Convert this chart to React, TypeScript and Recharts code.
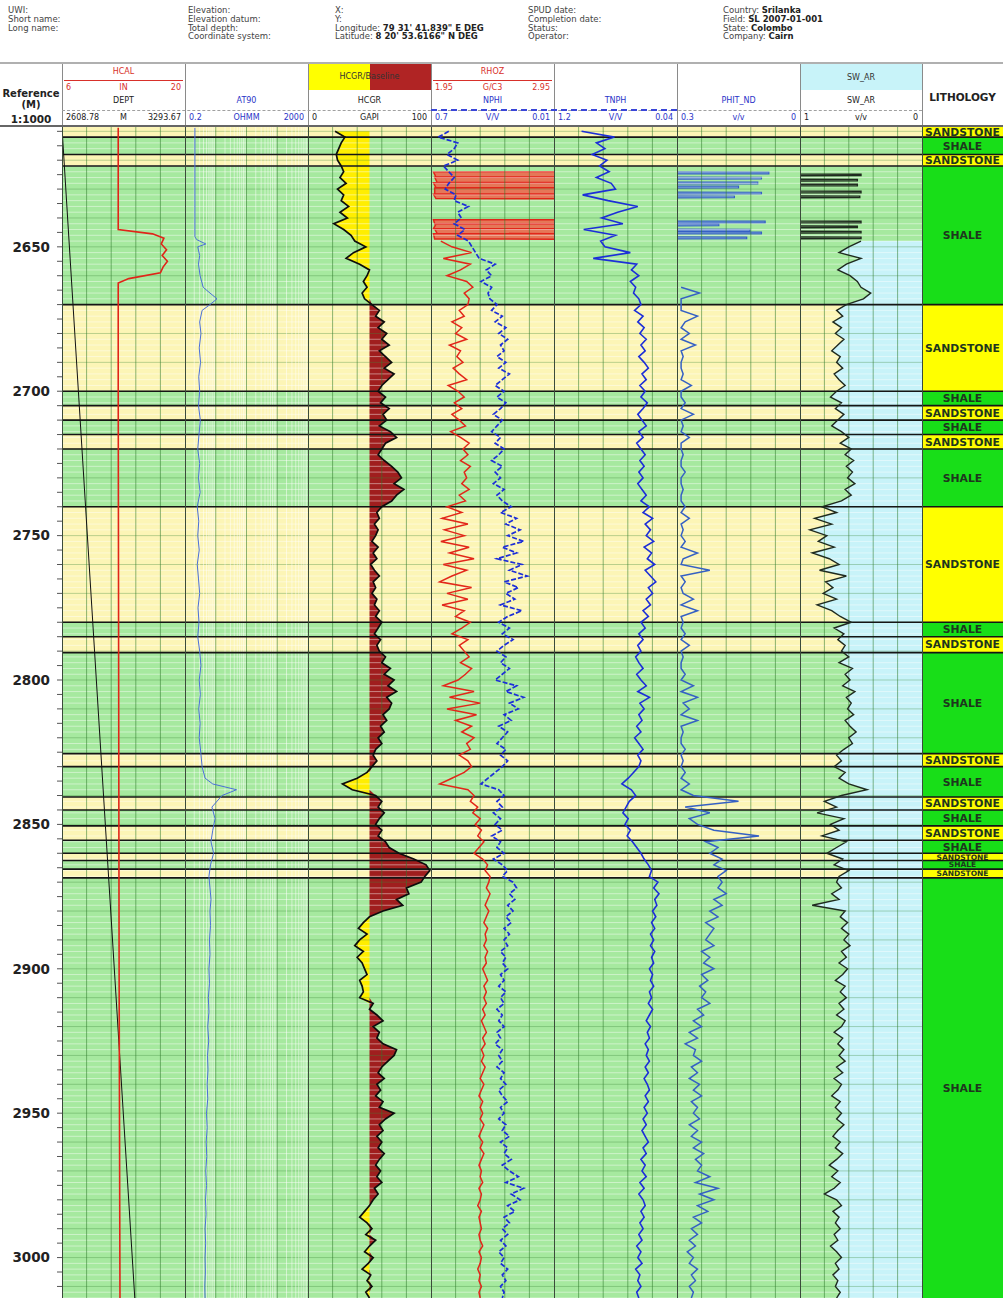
import React from "react";
import { ComposedChart, Line, Area, XAxis, YAxis, ReferenceArea, ReferenceLine } from "recharts";

const FONT = "'DejaVu Sans', Verdana, sans-serif";
const RED = "#d8302a";
const BLUE = "#2a34c8";

// depth window shown (m) and plot geometry
const TOP_DEPTH = 2608.5;
const BASE_DEPTH = 3014;
const PLOT_TOP = 127;
const PLOT_H = 1171;

// lithology beds
const BED_TOPS = [2608.5, 2612, 2618, 2622, 2670, 2700, 2705, 2710, 2715, 2720, 2740, 2780, 2785, 2790.5, 2825.5, 2830, 2840.5, 2845, 2850.5, 2855.5, 2860, 2862.5, 2865.5, 2868.5];
const BED_BASES = [2612, 2618, 2622, 2670, 2700, 2705, 2710, 2715, 2720, 2740, 2780, 2785, 2790.5, 2825.5, 2830, 2840.5, 2845, 2850.5, 2855.5, 2860, 2862.5, 2865.5, 2868.5, 3014];
const BED_TYPES = ["SANDSTONE", "SHALE", "SANDSTONE", "SHALE", "SANDSTONE", "SHALE", "SANDSTONE", "SHALE", "SANDSTONE", "SHALE", "SANDSTONE", "SHALE", "SANDSTONE", "SHALE", "SANDSTONE", "SHALE", "SANDSTONE", "SHALE", "SANDSTONE", "SHALE", "SANDSTONE", "SHALE", "SANDSTONE", "SHALE"];

const DEPTH_LABELS = [2650, 2700, 2750, 2800, 2850, 2900, 2950, 3000];

// log samples, one every 2 m starting at 2610 m
const SAMPLE_START = 2610;
const SAMPLE_STEP = 2;

const HCGR = [
  22, 30, 27, 25, 23, 24, 27, 29, 26, 31,
  24, 29, 27, 33, 26, 32, 21, 29, 35, 38,
  47, 37, 31, 42, 50, 48, 45, 48, 44, 46,
  52, 58, 55, 62, 57, 64, 60, 66, 58, 63,
  68, 62, 70, 65, 60, 57, 63, 59, 66, 61,
  64, 58, 67, 72, 63, 60, 57, 62, 68, 73,
  76, 70, 78, 72, 68, 60, 56, 58, 54, 57,
  55, 52, 57, 53, 56, 51, 54, 58, 53, 55,
  52, 56, 54, 58, 55, 60, 57, 54, 59, 56,
  58, 63, 60, 67, 62, 70, 65, 72, 64, 68,
  66, 61, 64, 59, 62, 57, 60, 55, 53, 56,
  52, 48, 40, 28, 36, 55, 60, 57, 62, 58,
  55, 60, 57, 63, 66, 74, 86, 96, 99, 95,
  92, 80, 82, 72, 77, 61, 50, 45, 41, 48,
  42, 38, 45, 40, 44, 46, 48, 42, 44, 45,
  42, 53, 50, 56, 61, 53, 58, 56, 61, 72,
  70, 65, 60, 57, 62, 56, 59, 55, 61, 58,
  70, 63, 58, 61, 56, 60, 57, 62, 58, 55,
  59, 56, 60, 54, 57, 53, 50, 46, 42, 48,
  52, 47, 55, 50, 46, 53, 49, 44, 51, 48,
  52, 47, 50,
];

const RHOZ = [
  null, null, null, null, null, null, null, null, null, null,
  null, null, null, null, null, null, null, null, null, 2.03,
  2.12, 2.28, 2.05, 2.27, 2.19, 2.08, 2.24, 2.29, 2.22, 2.26,
  2.25, 2.18, 2.22, 2.12, 2.2, 2.15, 2.24, 2.1, 2.19, 2.16,
  2.21, 2.13, 2.18, 2.24, 2.09, 2.17, 2.22, 2.14, 2.2, 2.12,
  2.18, 2.23, 2.11, 2.19, 2.26, 2.21, 2.25, 2.19, 2.27, 2.22,
  2.24, 2.2, 2.26, 2.18, 2.23, 2.08, 2.2, 2.04, 2.25, 2.06,
  2.22, 2.03, 2.26, 2.1, 2.3, 2.05, 2.24, 2.12, 2.02, 2.28,
  2.08, 2.25, 2.04, 2.22, 2.15, 2.27, 2.2, 2.12, 2.25, 2.18,
  2.22, 2.26, 2.19, 2.28, 2.23, 2.17, 2.05, 2.3, 2.1, 2.35,
  2.08, 2.32, 2.15, 2.28, 2.2, 2.3, 2.24, 2.27, 2.18, 2.25,
  2.28, 2.22, 2.12, 2.02, 2.25, 2.3, 2.27, 2.33, 2.29, 2.35,
  2.31, 2.36, 2.33, 2.38, 2.34, 2.3, 2.37, 2.41, 2.39, 2.43,
  2.42, 2.4, 2.43, 2.41, 2.39, 2.42, 2.4, 2.38, 2.41, 2.39,
  2.4, 2.38, 2.41, 2.39, 2.4, 2.37, 2.39, 2.41, 2.38, 2.4,
  2.38, 2.4, 2.37, 2.39, 2.36, 2.38, 2.4, 2.37, 2.39, 2.36,
  2.38, 2.36, 2.39, 2.37, 2.35, 2.38, 2.36, 2.34, 2.37, 2.35,
  2.37, 2.35, 2.38, 2.36, 2.34, 2.37, 2.35, 2.38, 2.36, 2.34,
  2.36, 2.35, 2.37, 2.34, 2.36, 2.35, 2.33, 2.36, 2.34, 2.35,
  2.36, 2.34, 2.35, 2.37, 2.34, 2.36, 2.35, 2.33, 2.35, 2.34,
  2.36, 2.34, 2.35,
];

const NPHI = [
  0.6, 0.66, 0.55, 0.57, 0.61, 0.55, 0.63, 0.6, 0.57, 0.6,
  0.62, 0.56, 0.57, 0.49, 0.55, 0.53, 0.57, 0.51, 0.55, 0.49,
  0.47, 0.45, 0.43, 0.34, 0.39, 0.36, 0.42, 0.36, 0.38, 0.37,
  0.33, 0.36, 0.3, 0.34, 0.28, 0.32, 0.27, 0.31, 0.29, 0.33,
  0.28, 0.32, 0.26, 0.3, 0.34, 0.29, 0.33, 0.28, 0.31, 0.35,
  0.3, 0.33, 0.36, 0.31, 0.34, 0.29, 0.32, 0.36, 0.3, 0.34,
  0.31, 0.35, 0.29, 0.33, 0.3, 0.25, 0.31, 0.22, 0.28, 0.2,
  0.27, 0.18, 0.3, 0.22, 0.33, 0.19, 0.26, 0.16, 0.29, 0.21,
  0.28, 0.23, 0.31, 0.19, 0.27, 0.32, 0.26, 0.3, 0.24, 0.29,
  0.33, 0.28, 0.31, 0.26, 0.3, 0.34, 0.22, 0.28, 0.18, 0.26,
  0.21, 0.29, 0.25, 0.32, 0.27, 0.3, 0.33, 0.28, 0.31, 0.27,
  0.3, 0.34, 0.38, 0.42, 0.32, 0.29, 0.33, 0.3, 0.35, 0.31,
  0.34, 0.3, 0.36, 0.31, 0.33, 0.29, 0.35, 0.3, 0.27, 0.3,
  0.24, 0.22, 0.26, 0.23, 0.27, 0.24, 0.28, 0.25, 0.29, 0.26,
  0.29, 0.27, 0.31, 0.28, 0.3, 0.27, 0.31, 0.29, 0.32, 0.28,
  0.31, 0.29, 0.33, 0.3, 0.32, 0.29, 0.33, 0.31, 0.34, 0.3,
  0.32, 0.3, 0.33, 0.29, 0.31, 0.28, 0.32, 0.3, 0.27, 0.31,
  0.29, 0.32, 0.28, 0.3, 0.26, 0.31, 0.27, 0.29, 0.25, 0.3,
  0.26, 0.21, 0.28, 0.18, 0.25, 0.2, 0.27, 0.23, 0.29, 0.26,
  0.3, 0.27, 0.31, 0.28, 0.32, 0.29, 0.31, 0.27, 0.3, 0.28,
  0.31, 0.29, 0.3,
];

const TNPH = [
  0.94, 0.63, 0.8, 0.72, 0.84, 0.7, 0.77, 0.68, 0.8, 0.66,
  0.62, 0.93, 0.69, 0.41, 0.6, 0.75, 0.55, 0.92, 0.62, 0.76,
  0.72, 0.48, 0.83, 0.42, 0.47, 0.4, 0.48, 0.43, 0.45, 0.4,
  0.38, 0.44, 0.36, 0.41, 0.35, 0.39, 0.33, 0.38, 0.34, 0.4,
  0.35, 0.31, 0.37, 0.33, 0.39, 0.34, 0.38, 0.32, 0.36, 0.41,
  0.37, 0.33, 0.4, 0.36, 0.42, 0.38, 0.34, 0.39, 0.35, 0.4,
  0.36, 0.41, 0.37, 0.33, 0.38, 0.3, 0.36, 0.27, 0.34, 0.29,
  0.33, 0.26, 0.35, 0.28, 0.32, 0.25, 0.34, 0.29, 0.24, 0.31,
  0.27, 0.33, 0.29, 0.36, 0.31, 0.38, 0.34, 0.4, 0.36, 0.41,
  0.38, 0.43, 0.4, 0.36, 0.42, 0.38, 0.33, 0.41, 0.3, 0.39,
  0.35, 0.4, 0.37, 0.42, 0.38, 0.44, 0.4, 0.36, 0.41, 0.38,
  0.4, 0.45, 0.5, 0.56, 0.47, 0.43, 0.49, 0.52, 0.55, 0.5,
  0.53, 0.48, 0.51, 0.46, 0.42, 0.38, 0.35, 0.31, 0.28, 0.3,
  0.22, 0.26, 0.21, 0.25, 0.23, 0.27, 0.24, 0.28, 0.25, 0.29,
  0.26, 0.29, 0.25, 0.28, 0.26, 0.3, 0.27, 0.29, 0.26, 0.3,
  0.28, 0.31, 0.27, 0.3, 0.33, 0.29, 0.32, 0.3, 0.34, 0.31,
  0.33, 0.3, 0.34, 0.31, 0.35, 0.32, 0.3, 0.34, 0.31, 0.35,
  0.32, 0.36, 0.33, 0.37, 0.34, 0.31, 0.36, 0.33, 0.38, 0.34,
  0.37, 0.33, 0.39, 0.35, 0.4, 0.36, 0.34, 0.38, 0.35, 0.39,
  0.36, 0.4, 0.37, 0.42, 0.38, 0.41, 0.37, 0.43, 0.39, 0.41,
  0.38, 0.42, 0.4,
];

const PHIT_ND = [
  null, null, null, null, null, null, null, null, null, null,
  null, null, null, null, null, null, null, null, null, null,
  null, null, null, null, null, null, null, 0.29, 0.245, 0.29,
  0.29, 0.29, 0.25, 0.28, 0.29, 0.27, 0.29, 0.255, 0.29, 0.285,
  0.29, 0.29, 0.285, 0.29, 0.265, 0.29, 0.29, 0.28, 0.29, 0.26,
  0.29, 0.285, 0.29, 0.27, 0.29, 0.29, 0.285, 0.29, 0.29, 0.28,
  0.29, 0.29, 0.285, 0.29, 0.29, 0.28, 0.29, 0.27, 0.29, 0.285,
  0.29, 0.28, 0.29, 0.25, 0.285, 0.29, 0.22, 0.29, 0.28, 0.29,
  0.285, 0.26, 0.29, 0.25, 0.29, 0.285, 0.29, 0.28, 0.29, 0.27,
  0.29, 0.285, 0.29, 0.29, 0.28, 0.29, 0.26, 0.29, 0.25, 0.285,
  0.27, 0.29, 0.25, 0.29, 0.285, 0.29, 0.29, 0.28, 0.29, 0.285,
  0.29, 0.28, 0.29, 0.27, 0.29, 0.26, 0.15, 0.28, 0.22, 0.27,
  0.25, 0.21, 0.1, 0.23, 0.2, 0.22, 0.19, 0.21, 0.18, 0.2,
  0.19, 0.2, 0.18, 0.21, 0.19, 0.22, 0.2, 0.23, 0.21, 0.22,
  0.23, 0.21, 0.24, 0.22, 0.235, 0.21, 0.24, 0.225, 0.245, 0.23,
  0.24, 0.22, 0.25, 0.235, 0.26, 0.24, 0.27, 0.25, 0.28, 0.255,
  0.26, 0.24, 0.265, 0.25, 0.27, 0.245, 0.26, 0.24, 0.265, 0.25,
  0.26, 0.245, 0.27, 0.25, 0.265, 0.24, 0.26, 0.235, 0.255, 0.24,
  0.25, 0.22, 0.255, 0.2, 0.245, 0.21, 0.25, 0.225, 0.26, 0.24,
  0.265, 0.25, 0.27, 0.255, 0.275, 0.26, 0.27, 0.25, 0.265, 0.255,
  0.27, 0.26, 0.265,
];

const SW_AR = [
  null, null, null, null, null, null, null, null, null, null,
  null, null, null, null, null, null, null, null, null, 0.5,
  0.6, 0.68, 0.5, 0.62, 0.69, 0.59, 0.53, 0.5, 0.42, 0.48,
  0.62, 0.7, 0.65, 0.73, 0.66, 0.71, 0.64, 0.69, 0.74, 0.67,
  0.7, 0.65, 0.72, 0.68, 0.63, 0.7, 0.75, 0.66, 0.71, 0.64,
  0.69, 0.74, 0.66, 0.6, 0.67, 0.58, 0.63, 0.56, 0.62, 0.57,
  0.61, 0.55, 0.63, 0.58, 0.66, 0.82, 0.7, 0.88, 0.74, 0.92,
  0.78, 0.85, 0.72, 0.9, 0.76, 0.68, 0.84, 0.62, 0.79, 0.73,
  0.81, 0.7, 0.86, 0.74, 0.67, 0.58, 0.72, 0.64, 0.69, 0.63,
  0.66, 0.6, 0.68, 0.57, 0.63, 0.59, 0.65, 0.55, 0.62, 0.58,
  0.61, 0.56, 0.63, 0.59, 0.54, 0.6, 0.57, 0.64, 0.7, 0.66,
  0.72, 0.63, 0.68, 0.6, 0.45, 0.66, 0.8, 0.7, 0.86, 0.64,
  0.75, 0.68, 0.82, 0.62, 0.7, 0.78, 0.65, 0.72, 0.6, 0.68,
  0.7, 0.66, 0.74, 0.68, 0.9, 0.63, 0.67, 0.61, 0.66, 0.6,
  0.64, 0.59, 0.66, 0.62, 0.68, 0.61, 0.65, 0.71, 0.63, 0.67,
  0.62, 0.68, 0.64, 0.7, 0.63, 0.66, 0.72, 0.65, 0.69, 0.64,
  0.68, 0.63, 0.7, 0.65, 0.72, 0.66, 0.69, 0.74, 0.67, 0.71,
  0.66, 0.7, 0.64, 0.69, 0.73, 0.67, 0.71, 0.65, 0.7, 0.76,
  0.69, 0.74, 0.67, 0.72, 0.8, 0.7, 0.66, 0.73, 0.68, 0.71,
  0.67, 0.72, 0.69, 0.75, 0.7, 0.66, 0.71, 0.68, 0.73, 0.69,
  0.71, 0.67, 0.7,
];

// bad-hole readings near the top, kept as they were logged
const RHOZ_SPIKE_DEPTHS = [2624.0, 2624.05, 2625.8, 2625.85, 2625.9, 2627.7, 2627.75, 2627.8, 2629.5, 2629.55, 2629.6, 2631.7, 2631.75, 2631.8, 2633.3, 2633.35, 2640.6, 2640.65, 2642.0, 2642.05, 2642.1, 2643.7, 2643.75, 2643.8, 2645.4, 2645.45, 2645.5, 2647.3, 2647.35];
const RHOZ_SPIKE_VALUES = [3.3, 1.97, 1.99, 3.3, 1.98, 2.0, 3.3, 1.97, 1.99, 3.3, 1.98, 1.98, 3.3, 1.97, 1.99, 3.3, 3.3, 1.97, 1.98, 3.3, 1.99, 1.97, 3.3, 1.98, 2.0, 3.3, 1.97, 1.98, 3.3];

const PHIT_SPIKE_DEPTHS = [
  2624.05, 2624.1, 2624.7, 2624.75, 2625.85, 2625.9, 2626.5, 2626.55,
  2627.55, 2627.6, 2628.2, 2628.25, 2628.95, 2629.0, 2629.6, 2629.65,
  2631.05, 2631.1, 2631.7, 2631.75, 2632.35, 2632.4, 2633.0, 2633.05,
  2641.05, 2641.1, 2641.7, 2641.75, 2642.05, 2642.1, 2642.7, 2642.75,
  2643.85, 2643.9, 2644.5, 2644.55, 2644.85, 2644.9, 2645.5, 2645.55,
  2646.55, 2646.6, 2647.2, 2647.25,
];
const PHIT_SPIKE_VALUES = [
  0.36, 0.076, 0.076, 0.36, 0.36, 0.094, 0.094, 0.36,
  0.36, 0.103, 0.103, 0.36, 0.36, 0.15, 0.15, 0.36,
  0.36, 0.094, 0.094, 0.36, 0.36, 0.16, 0.16, 0.36,
  0.36, 0.085, 0.085, 0.36, 0.36, 0.198, 0.198, 0.36,
  0.36, 0.122, 0.122, 0.36, 0.36, 0.094, 0.094, 0.36,
  0.36, 0.13, 0.13, 0.36,
];

const SW_SPIKE_DEPTHS = [
  2624.8, 2624.85, 2625.35, 2625.4, 2626.6, 2626.65, 2627.15, 2627.2,
  2628.3, 2628.35, 2628.85, 2628.9, 2630.7, 2630.75, 2631.25, 2631.3,
  2632.4, 2632.45, 2632.95, 2633.0, 2641.1, 2641.15, 2641.65, 2641.7,
  2642.8, 2642.85, 2643.35, 2643.4, 2644.6, 2644.65, 2645.15, 2645.2,
  2646.6, 2646.65, 2647.15, 2647.2,
];
const SW_SPIKE_VALUES = [
  1.06, 0.5, 0.5, 1.06, 1.06, 0.53, 0.53, 1.06,
  1.06, 0.53, 0.53, 1.06, 1.06, 0.5, 0.5, 1.06,
  1.06, 0.51, 0.51, 1.06, 1.06, 0.5, 0.5, 1.06,
  1.06, 0.53, 0.53, 1.06, 1.06, 0.5, 0.5, 1.06,
  1.06, 0.5, 0.5, 1.06,
];

const AT90_DEPTHS = [2608.8, 2646.5, 2647.5, 2649, 2650, 2653, 2656, 2660, 2664, 2666, 2668, 2670, 2672, 2676, 2680, 2685, 2690, 2695, 2700, 2705, 2710, 2715, 2720, 2725, 2730, 2735, 2740, 2745, 2750, 2755, 2760, 2765, 2770, 2775, 2780, 2785, 2790, 2795, 2800, 2805, 2810, 2815, 2820, 2825, 2830, 2834, 2836, 2838, 2840, 2844, 2848, 2852, 2856, 2860, 2864, 2868, 2872, 2876, 2880, 2885, 2890, 2895, 2900, 2905, 2910, 2915, 2920, 2925, 2930, 2935, 2940, 2945, 2950, 2955, 2960, 2965, 2970, 2975, 2980, 2985, 2990, 2995, 3000, 3005, 3010, 3014];
const AT90_VALUES = [0.42, 0.42, 0.48, 0.95, 0.52, 0.6, 0.55, 0.62, 0.78, 1.3, 2.2, 1.3, 0.72, 0.6, 0.66, 0.58, 0.64, 0.56, 0.6, 0.55, 0.63, 0.57, 0.52, 0.6, 0.55, 0.62, 0.5, 0.56, 0.52, 0.58, 0.5, 0.55, 0.6, 0.53, 0.57, 0.52, 0.6, 0.66, 0.58, 0.63, 0.56, 0.62, 0.58, 0.65, 0.72, 0.9, 1.6, 9.5, 3.2, 1.5, 1.9, 1.6, 1.4, 1.7, 1.35, 1.2, 1.3, 1.4, 1.3, 1.35, 1.25, 1.3, 1.2, 1.25, 1.15, 1.2, 1.1, 1.18, 1.08, 1.12, 1.05, 1.1, 1.0, 1.05, 0.98, 1.02, 0.95, 1.0, 0.93, 0.97, 0.9, 0.94, 0.9, 0.92, 0.88, 0.9];

const HCAL_DEPTHS = [2608.8, 2644, 2645.5, 2647, 2649, 2651, 2653, 2655, 2657, 2659, 2661, 2662.5, 2700, 2800, 2900, 3014];
const HCAL_VALUES = [12.4, 12.4, 16.3, 17.6, 17.3, 17.9, 17.4, 18.0, 17.5, 17.2, 13.6, 12.4, 12.4, 12.45, 12.5, 12.6];

const DEPT_DEPTHS = [2608.78, 3014];
const DEPT_VALUES = [2608.78, 3014];

// tables for the library
const LOG_ROWS = HCGR.map((v, i) => ({
  depth: SAMPLE_START + i * SAMPLE_STEP,
  hcgr: v,
  rhoz: RHOZ[i],
  nphi: NPHI[i],
  tnph: TNPH[i],
  phit: PHIT_ND[i],
  sw: SW_AR[i],
}));
const pairRows = (depths: number[], values: number[]) => depths.map((depth, i) => ({ depth, v: values[i] }));
const AT90_ROWS = pairRows(AT90_DEPTHS, AT90_VALUES);
const HCAL_ROWS = pairRows(HCAL_DEPTHS, HCAL_VALUES);
const DEPT_ROWS = pairRows(DEPT_DEPTHS, DEPT_VALUES);
const RHOZ_SPIKES = pairRows(RHOZ_SPIKE_DEPTHS, RHOZ_SPIKE_VALUES);
const PHIT_SPIKES = pairRows(PHIT_SPIKE_DEPTHS, PHIT_SPIKE_VALUES);
const SW_SPIKES = pairRows(SW_SPIKE_DEPTHS, SW_SPIKE_VALUES);
// shale = 1, sandstone = 0 at each bed top (invisible, only anchors the lithology axis)
const LITH_ROWS = BED_TYPES.map((t, i) => ({ depth: BED_TOPS[i], code: t === "SHALE" ? 1 : 0 }));

// grid
const MINOR_DEPTHS: number[] = [];
const MAJOR_DEPTHS: number[] = [];
for (let d = 2610; d <= 3014; d += 2) (d % 10 === 0 ? MAJOR_DEPTHS : MINOR_DEPTHS).push(d);
const DEPTH_TICKS: number[] = [];
for (let d = 2610; d <= 3010; d += 5) DEPTH_TICKS.push(d);
const BOUNDARIES = BED_BASES.slice(0, -1);

const SHALE_BG = "#a6e99f";
const SAND_BG = "#fcf5b6";

const divisions = (a: number, b: number) => [1, 2, 3, 4].map((k) => a + ((b - a) * k) / 5);
const AT90_MAJOR = [2, 20, 200];
const AT90_MINOR: number[] = [];
[0.2, 2, 20, 200].forEach((base) => [2, 3, 4, 5, 6, 7, 8, 9].forEach((m) => AT90_MINOR.push(base * m)));

const NO_MARGIN = { top: 0, right: 0, bottom: 0, left: 0 };

function background(xId: string, vLines: number[], vMinor: number[] = []) {
  const out: React.ReactNode[] = [];
  BED_TYPES.forEach((t, i) =>
    out.push(
      <ReferenceArea key={`bed-${i}`} xAxisId={xId} yAxisId="d" y1={BED_TOPS[i]} y2={BED_BASES[i]}
        fill={t === "SHALE" ? SHALE_BG : SAND_BG} fillOpacity={1} stroke="none" ifOverflow="hidden" />
    )
  );
  MINOR_DEPTHS.forEach((d) =>
    out.push(<ReferenceLine key={`hm-${d}`} xAxisId={xId} yAxisId="d" y={d} stroke="#ffffff" strokeOpacity={0.45} ifOverflow="hidden" />)
  );
  MAJOR_DEPTHS.forEach((d) =>
    out.push(<ReferenceLine key={`hM-${d}`} xAxisId={xId} yAxisId="d" y={d} stroke="#3f8a3c" strokeOpacity={0.35} ifOverflow="hidden" />)
  );
  vMinor.forEach((v) =>
    out.push(<ReferenceLine key={`vm-${v}`} xAxisId={xId} yAxisId="d" x={v} stroke="#ffffff" strokeOpacity={0.5} ifOverflow="hidden" />)
  );
  vLines.forEach((v) =>
    out.push(<ReferenceLine key={`vM-${v}`} xAxisId={xId} yAxisId="d" x={v} stroke="#2f7a2c" strokeOpacity={0.55} ifOverflow="hidden" />)
  );
  return out;
}

function bedLines(xId: string) {
  return BOUNDARIES.map((d) => (
    <ReferenceLine key={`b-${d}`} xAxisId={xId} yAxisId="d" y={d} stroke="#151515" strokeWidth={1.6} ifOverflow="hidden" />
  ));
}

const hiddenDepthAxis = (
  <YAxis yAxisId="d" type="number" dataKey="depth" domain={[TOP_DEPTH, BASE_DEPTH]} allowDataOverflow hide />
);

function DepthTick(props: any) {
  const { x, y, payload } = props;
  if (!DEPTH_LABELS.includes(payload.value)) return <g />;
  return (
    <text x={x} y={y} dy="0.36em" textAnchor="end" fontSize={13.5} fontWeight={700} fill="#222" fontFamily={FONT}>
      {payload.value}
    </text>
  );
}

const lineProps = { yAxisId: "d", dot: false, isAnimationActive: false, activeDot: false } as const;

function HText({ x, w, y, text, color = "#333", size = 8, bold = false, align = "center" }: any) {
  return (
    <div style={{ position: "absolute", left: x, top: y - 6, width: w, height: 12, lineHeight: "12px", fontSize: size, fontWeight: bold ? 700 : 400, color, textAlign: align, whiteSpace: "nowrap", overflow: "hidden" }}>
      {text}
    </div>
  );
}

function Scale({ x, w, y, parts, color }: any) {
  return (
    <>
      <HText x={x + 4} w={w - 8} y={y} text={parts[0]} color={color} align="left" />
      <HText x={x + 4} w={w - 8} y={y} text={parts[1]} color={color} align="center" />
      <HText x={x + 4} w={w - 8} y={y} text={parts[2]} color={color} align="right" />
    </>
  );
}

const INFO_COLS = [
  { x: 8, rows: [["UWI:", ""], ["Short name:", ""], ["Long name:", ""]] },
  { x: 188, rows: [["Elevation:", ""], ["Elevation datum:", ""], ["Total depth:", ""], ["Coordinate system:", ""]] },
  { x: 335, rows: [["X:", ""], ["Y:", ""], ["Longitude: ", "79 31' 41.839\" E DEG"], ["Latitude: ", "8 20' 53.6166\" N DEG"]] },
  { x: 528, rows: [["SPUD date:", ""], ["Completion date:", ""], ["Status:", ""], ["Operator:", ""]] },
  { x: 723, rows: [["Country: ", "Srilanka"], ["Field: ", "SL 2007-01-001"], ["State: ", "Colombo"], ["Company: ", "Cairn"]] },
];

const TRACK_EDGES = [62, 185, 308, 431, 554, 677, 800, 922];

function Header() {
  return (
    <>
      {INFO_COLS.map((c) =>
        c.rows.map((r, i) => (
          <div key={`${c.x}-${i}`} style={{ position: "absolute", left: c.x, top: 5 + i * 8.8, fontSize: 8.5, lineHeight: "10px", color: "#444", whiteSpace: "nowrap" }}>
            {r[0]}
            {r[1] && <b style={{ color: "#222" }}>{r[1]}</b>}
          </div>
        ))
      )}
      <div style={{ position: "absolute", left: 0, top: 62, width: 1003, height: 2, background: "#b0b0b0" }} />
      {TRACK_EDGES.map((x) => (
        <div key={`he-${x}`} style={{ position: "absolute", left: x, top: 64, width: 1, height: 62, background: "#8a8a8a" }} />
      ))}
      <div style={{ position: "absolute", left: 62, top: 110, width: 860, height: 0, borderTop: "1px dashed #a0a0a0" }} />
      <div style={{ position: "absolute", left: 431, top: 109, width: 246, height: 0, borderTop: "2px dashed #3a46d8" }} />
      <div style={{ position: "absolute", left: 0, top: 125, width: 1003, height: 2, background: "#666" }} />

      <HText x={0} w={62} y={94} text="Reference" size={10} bold color="#222" />
      <HText x={0} w={62} y={105} text="(M)" size={10} bold color="#222" />
      <HText x={0} w={62} y={119} text="1:1000" size={10.5} bold color="#222" />

      <HText x={62} w={123} y={72} text="HCAL" color={RED} />
      <div style={{ position: "absolute", left: 64, top: 80, width: 119, height: 1, background: RED }} />
      <Scale x={62} w={123} y={88} parts={["6", "IN", "20"]} color={RED} />
      <HText x={62} w={123} y={101} text="DEPT" color="#222" />
      <Scale x={62} w={123} y={118} parts={["2608.78", "M", "3293.67"]} color="#222" />

      <HText x={185} w={123} y={101} text="AT90" color={BLUE} />
      <Scale x={185} w={123} y={118} parts={["0.2", "OHMM", "2000"]} color={BLUE} />

      <div style={{ position: "absolute", left: 309, top: 64, width: 61, height: 26, background: "#ffff00" }} />
      <div style={{ position: "absolute", left: 370, top: 64, width: 61, height: 26, background: "#b02424" }} />
      <HText x={308} w={123} y={77} text="HCGR/Baseline" color="#333" />
      <HText x={308} w={123} y={101} text="HCGR" color="#222" />
      <Scale x={308} w={123} y={118} parts={["0", "GAPI", "100"]} color="#222" />

      <HText x={431} w={123} y={72} text="RHOZ" color={RED} />
      <div style={{ position: "absolute", left: 433, top: 80, width: 119, height: 1, background: RED }} />
      <Scale x={431} w={123} y={88} parts={["1.95", "G/C3", "2.95"]} color={RED} />
      <HText x={431} w={123} y={101} text="NPHI" color={BLUE} />
      <Scale x={431} w={123} y={118} parts={["0.7", "V/V", "0.01"]} color={BLUE} />

      <HText x={554} w={123} y={101} text="TNPH" color={BLUE} />
      <Scale x={554} w={123} y={118} parts={["1.2", "V/V", "0.04"]} color={BLUE} />

      <HText x={677} w={123} y={101} text="PHIT_ND" color={BLUE} />
      <Scale x={677} w={123} y={118} parts={["0.3", "v/v", "0"]} color={BLUE} />

      <div style={{ position: "absolute", left: 801, top: 64, width: 121, height: 26, background: "#c8f3f9" }} />
      <HText x={800} w={122} y={78} text="SW_AR" color="#333" />
      <HText x={800} w={122} y={101} text="SW_AR" color="#222" />
      <Scale x={800} w={122} y={118} parts={["1", "v/v", "0"]} color="#222" />

      <HText x={922} w={81} y={97} text="LITHOLOGY" size={10.5} bold color="#222" />
    </>
  );
}

function Chart({ left, width, data = LOG_ROWS, children }: any) {
  return (
    <div style={{ position: "absolute", left, top: PLOT_TOP }}>
      <ComposedChart layout="vertical" width={width} height={PLOT_H} data={data} margin={NO_MARGIN}>
        {children}
      </ComposedChart>
    </div>
  );
}

export default function App() {
  return (
    <div style={{ position: "absolute", left: 0, top: 0, width: 1003, height: 1298, background: "#ffffff", overflow: "hidden", fontFamily: FONT }}>
      <Header />

      {/* depth column + HCAL / DEPT */}
      <Chart left={0} width={185}>
        <YAxis yAxisId="d" type="number" dataKey="depth" domain={[TOP_DEPTH, BASE_DEPTH]} allowDataOverflow
          width={62} ticks={DEPTH_TICKS} interval={0} tick={<DepthTick />} tickSize={5} tickMargin={7}
          tickLine={{ stroke: "#555" }} axisLine={false} />
        <XAxis xAxisId="hcal" type="number" domain={[6, 20]} allowDataOverflow hide />
        <XAxis xAxisId="dept" type="number" domain={[2608.78, 3293.67]} allowDataOverflow hide />
        {background("hcal", divisions(6, 20))}
        {bedLines("hcal")}
        <Line {...lineProps} xAxisId="dept" data={DEPT_ROWS} dataKey="v" stroke="#111" strokeWidth={1} />
        <Line {...lineProps} xAxisId="hcal" data={HCAL_ROWS} dataKey="v" stroke="#e02418" strokeWidth={1.6} />
      </Chart>

      {/* AT90 */}
      <Chart left={185} width={123}>
        {hiddenDepthAxis}
        <XAxis xAxisId="at90" type="number" scale="log" domain={[0.2, 2000]} allowDataOverflow hide />
        {background("at90", AT90_MAJOR, AT90_MINOR)}
        {bedLines("at90")}
        <Line {...lineProps} xAxisId="at90" data={AT90_ROWS} dataKey="v" stroke="#4a6fd8" strokeWidth={1} />
      </Chart>

      {/* HCGR with baseline fill */}
      <Chart left={308} width={123}>
        {hiddenDepthAxis}
        <XAxis xAxisId="gr" type="number" domain={[0, 100]} allowDataOverflow hide />
        {background("gr", divisions(0, 100))}
        {bedLines("gr")}
        <Area {...lineProps} xAxisId="gr" dataKey={(r: any) => [Math.min(r.hcgr, 50), 50]} stroke="none" fill="#ffee00" fillOpacity={1} />
        <Area {...lineProps} xAxisId="gr" dataKey={(r: any) => [50, Math.max(r.hcgr, 50)]} stroke="none" fill="#a01e1e" fillOpacity={1} />
        <Line {...lineProps} xAxisId="gr" dataKey="hcgr" stroke="#0d0d0d" strokeWidth={1.7} />
      </Chart>

      {/* RHOZ + NPHI */}
      <Chart left={431} width={123}>
        {hiddenDepthAxis}
        <XAxis xAxisId="rhoz" type="number" domain={[1.95, 2.95]} allowDataOverflow hide />
        <XAxis xAxisId="nphi" type="number" domain={[0.01, 0.7]} reversed allowDataOverflow hide />
        {background("rhoz", divisions(1.95, 2.95))}
        {bedLines("rhoz")}
        <Area {...lineProps} xAxisId="rhoz" data={RHOZ_SPIKES} dataKey={(r: any) => [r.v, 3.5]} stroke="#e2261a" strokeWidth={1.5} fill="#ec6a50" fillOpacity={0.9} />
        <Line {...lineProps} xAxisId="rhoz" dataKey="rhoz" stroke="#e2261a" strokeWidth={1.5} />
        <Line {...lineProps} xAxisId="nphi" dataKey="nphi" stroke="#1c2ed8" strokeWidth={1.7} strokeDasharray="5 2" />
      </Chart>

      {/* TNPH */}
      <Chart left={554} width={123}>
        {hiddenDepthAxis}
        <XAxis xAxisId="tnph" type="number" domain={[0.04, 1.2]} reversed allowDataOverflow hide />
        {background("tnph", divisions(0.04, 1.2))}
        {bedLines("tnph")}
        <Line {...lineProps} xAxisId="tnph" dataKey="tnph" stroke="#1c2ed8" strokeWidth={1.6} />
      </Chart>

      {/* PHIT_ND */}
      <Chart left={677} width={123}>
        {hiddenDepthAxis}
        <XAxis xAxisId="phit" type="number" domain={[0, 0.3]} reversed allowDataOverflow hide />
        {background("phit", divisions(0, 0.3))}
        {bedLines("phit")}
        <Area {...lineProps} xAxisId="phit" data={PHIT_SPIKES} dataKey={(r: any) => [r.v, 0.36]} stroke="#3560c4" strokeWidth={1.2} fill="#9dbfe6" fillOpacity={0.9} />
        <Line {...lineProps} xAxisId="phit" dataKey="phit" stroke="#3560c4" strokeWidth={1.5} />
      </Chart>

      {/* SW_AR */}
      <Chart left={800} width={122}>
        {hiddenDepthAxis}
        <XAxis xAxisId="sw" type="number" domain={[0, 1]} reversed allowDataOverflow hide />
        {background("sw", divisions(0, 1))}
        <Area {...lineProps} xAxisId="sw" dataKey={(r: any) => (r.sw == null ? null : [r.sw, -0.1])} stroke="none" fill="#c8f3f9" fillOpacity={1} />
        {bedLines("sw")}
        <Line {...lineProps} xAxisId="sw" data={SW_SPIKES} dataKey="v" stroke="#1f2a1f" strokeWidth={1.4} />
        <Line {...lineProps} xAxisId="sw" dataKey="sw" stroke="#1f2a1f" strokeWidth={1.4} />
      </Chart>

      {/* lithology */}
      <Chart left={922} width={81} data={LITH_ROWS}>
        {hiddenDepthAxis}
        <XAxis xAxisId="lith" type="number" domain={[-1, 2]} allowDataOverflow hide />
        {BED_TYPES.map((t, i) => {
          const thin = BED_BASES[i] - BED_TOPS[i] < 3.5;
          return (
            <ReferenceArea key={`lith-${i}`} xAxisId="lith" yAxisId="d" y1={BED_TOPS[i]} y2={BED_BASES[i]}
              fill={t === "SHALE" ? "#18de18" : "#ffff00"} fillOpacity={1} stroke="none" ifOverflow="hidden"
              label={{ value: t, position: "center", fill: "#1e361e", fontSize: thin ? 7.5 : 10.8, fontWeight: 700, fontFamily: FONT }} />
          );
        })}
        {bedLines("lith")}
        <Line {...lineProps} xAxisId="lith" dataKey="code" type="stepAfter" stroke="none" />
      </Chart>

      {TRACK_EDGES.map((x) => (
        <div key={`te-${x}`} style={{ position: "absolute", left: x, top: PLOT_TOP, width: 1, height: PLOT_H, background: "#3b4b3b" }} />
      ))}
    </div>
  );
}
